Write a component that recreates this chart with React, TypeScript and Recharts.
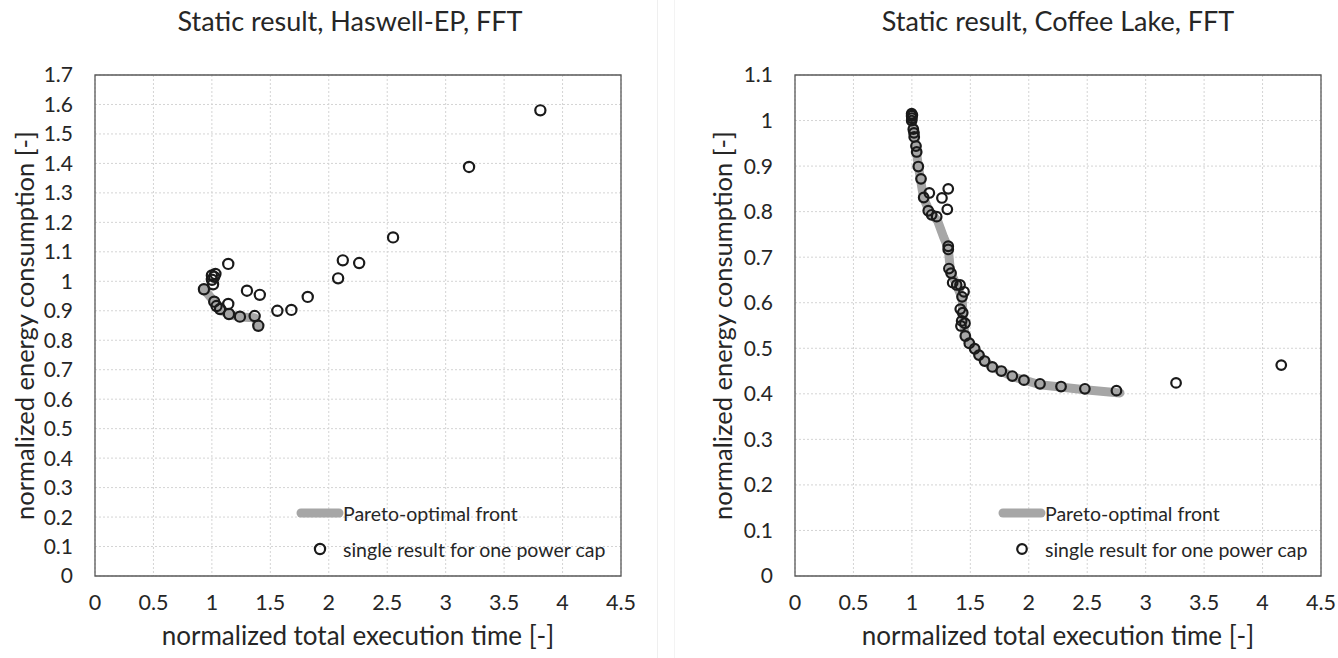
import { ScatterChart, Scatter, XAxis, YAxis, CartesianGrid, ReferenceArea } from "recharts";

const FONT = "Lato, 'Open Sans', sans-serif";
const TEXT = "#262626";
const FRONT_GREY = "#a6a6a6";

const X_TICKS = [0, 0.5, 1, 1.5, 2, 2.5, 3, 3.5, 4, 4.5];
const HASWELL_Y_TICKS = [0, 0.1, 0.2, 0.3, 0.4, 0.5, 0.6, 0.7, 0.8, 0.9, 1, 1.1, 1.2, 1.3, 1.4, 1.5, 1.6, 1.7];
const COFFEE_Y_TICKS = [0, 0.1, 0.2, 0.3, 0.4, 0.5, 0.6, 0.7, 0.8, 0.9, 1, 1.1];

// single results, one per power cap
const haswellPoints = [
  { x: 3.81, y: 1.58 }, { x: 3.2, y: 1.388 }, { x: 2.55, y: 1.149 }, { x: 2.12, y: 1.071 },
  { x: 2.26, y: 1.062 }, { x: 2.08, y: 1.01 }, { x: 1.82, y: 0.947 }, { x: 1.68, y: 0.903 },
  { x: 1.56, y: 0.9 }, { x: 1.14, y: 1.059 }, { x: 1.0, y: 1.02 }, { x: 1.03, y: 1.025 },
  { x: 1.02, y: 1.015 }, { x: 1.0, y: 1.005 }, { x: 1.01, y: 0.99 }, { x: 0.932, y: 0.973 },
  { x: 1.3, y: 0.968 }, { x: 1.41, y: 0.954 }, { x: 1.02, y: 0.931 }, { x: 1.04, y: 0.916 },
  { x: 1.07, y: 0.906 }, { x: 1.14, y: 0.923 }, { x: 1.146, y: 0.889 }, { x: 1.24, y: 0.88 },
  { x: 1.366, y: 0.882 }, { x: 1.397, y: 0.849 },
];
const haswellFront = [
  { x: 0.932, y: 0.973 }, { x: 1.02, y: 0.931 }, { x: 1.07, y: 0.903 }, { x: 1.146, y: 0.887 },
  { x: 1.24, y: 0.879 }, { x: 1.366, y: 0.876 }, { x: 1.397, y: 0.849 },
];

const coffeePoints = [
  { x: 0.998, y: 1.015 }, { x: 0.998, y: 1.01 }, { x: 1.0, y: 1.005 }, { x: 0.998, y: 1.0 },
  { x: 1.004, y: 1.012 }, { x: 1.012, y: 0.981 }, { x: 1.018, y: 0.973 }, { x: 1.02, y: 0.964 },
  { x: 1.035, y: 0.944 }, { x: 1.041, y: 0.931 }, { x: 1.055, y: 0.899 }, { x: 1.078, y: 0.872 },
  { x: 1.149, y: 0.841 }, { x: 1.101, y: 0.831 }, { x: 1.311, y: 0.85 }, { x: 1.257, y: 0.83 },
  { x: 1.303, y: 0.805 }, { x: 1.14, y: 0.802 }, { x: 1.169, y: 0.793 }, { x: 1.212, y: 0.789 },
  { x: 1.311, y: 0.724 }, { x: 1.311, y: 0.717 }, { x: 1.317, y: 0.675 }, { x: 1.335, y: 0.665 },
  { x: 1.349, y: 0.644 }, { x: 1.383, y: 0.639 }, { x: 1.412, y: 0.639 }, { x: 1.446, y: 0.624 },
  { x: 1.429, y: 0.613 }, { x: 1.414, y: 0.586 }, { x: 1.435, y: 0.578 }, { x: 1.426, y: 0.56 },
  { x: 1.454, y: 0.555 }, { x: 1.42, y: 0.549 }, { x: 1.457, y: 0.527 }, { x: 1.491, y: 0.511 },
  { x: 1.537, y: 0.499 }, { x: 1.574, y: 0.485 }, { x: 1.622, y: 0.472 }, { x: 1.688, y: 0.459 },
  { x: 1.765, y: 0.45 }, { x: 1.859, y: 0.439 }, { x: 1.959, y: 0.43 }, { x: 2.096, y: 0.422 },
  { x: 2.276, y: 0.416 }, { x: 2.48, y: 0.411 }, { x: 2.75, y: 0.407 }, { x: 3.26, y: 0.424 },
  { x: 4.16, y: 0.463 },
];
const coffeeFront = [
  { x: 1.0, y: 1.0 }, { x: 1.02, y: 0.97 }, { x: 1.055, y: 0.9 }, { x: 1.1, y: 0.83 },
  { x: 1.15, y: 0.8 }, { x: 1.22, y: 0.78 }, { x: 1.27, y: 0.745 }, { x: 1.311, y: 0.72 },
  { x: 1.33, y: 0.668 }, { x: 1.38, y: 0.64 }, { x: 1.43, y: 0.61 }, { x: 1.44, y: 0.555 },
  { x: 1.46, y: 0.525 }, { x: 1.537, y: 0.498 }, { x: 1.622, y: 0.472 }, { x: 1.688, y: 0.459 },
  { x: 1.859, y: 0.438 }, { x: 2.096, y: 0.42 }, { x: 2.48, y: 0.409 }, { x: 2.78, y: 0.402 },
];

const fmt = (v: number) => String(v);

function Panel(props: any) {
  const { left, width, axisWidth, rightMargin, yTicks, yMax, points, front, title, titleX, yLabelX, legendX, r } = props;

  const circle = (p: any) => (
    <circle cx={p.cx} cy={p.cy} r={r} fill="none" stroke="#1a1a1a" strokeWidth={2.2} />
  );

  return (
    <div style={{ position: "absolute", left, top: 0, width, height: 658 }}>
      <div
        style={{
          position: "absolute", left: titleX - 300, width: 600, top: 5, textAlign: "center",
          fontFamily: FONT, fontSize: 27, lineHeight: 1.2, color: TEXT,
        }}
      >
        {title}
      </div>
      <ScatterChart width={width} height={658} margin={{ top: 75, right: rightMargin, bottom: 0, left: 0 }}>
        <CartesianGrid stroke="#d4d4d4" strokeDasharray="2 2" />
        <XAxis
          type="number"
          dataKey="x"
          domain={[0, 4.5]}
          ticks={X_TICKS}
          tickFormatter={fmt}
          axisLine={false}
          tickLine={false}
          tickSize={0}
          tickMargin={19}
          height={82}
          tick={{ fill: TEXT, fontSize: 21.5, fontFamily: FONT }}
          label={(lp: any) => {
            const vb = lp.viewBox;
            return (
              <text x={vb.x + vb.width / 2} y={vb.y + 59} textAnchor="middle" dominantBaseline="central"
                fontSize={26} fontFamily={FONT} fill={TEXT}>
                normalized total execution time [-]
              </text>
            );
          }}
        />
        <YAxis
          type="number"
          dataKey="y"
          domain={[0, yMax]}
          ticks={yTicks}
          tickFormatter={fmt}
          axisLine={false}
          tickLine={false}
          tickSize={0}
          tickMargin={22}
          width={axisWidth}
          interval={0}
          tick={{ fill: TEXT, fontSize: 21, fontFamily: FONT }}
          label={(lp: any) => {
            const vb = lp.viewBox;
            const cy = vb.y + vb.height / 2;
            return (
              <text x={yLabelX} y={cy} transform={`rotate(-90 ${yLabelX} ${cy})`} textAnchor="middle"
                dominantBaseline="central" fontSize={25.5} fontFamily={FONT} fill={TEXT}>
                normalized energy consumption [-]
              </text>
            );
          }}
        />
        <ReferenceArea x1={0} x2={4.5} y1={0} y2={yMax} fill="none" stroke="#595959" strokeWidth={1.3} ifOverflow="visible" />
        <Scatter
          data={front}
          line={{ stroke: FRONT_GREY, strokeWidth: 9, strokeLinecap: "round", strokeLinejoin: "round" }}
          shape={() => <g />}
          isAnimationActive={false}
        />
        <Scatter data={points} shape={circle} isAnimationActive={false} />
      </ScatterChart>
      <div style={{ position: "absolute", left: legendX, top: 500, fontFamily: FONT, fontSize: 19.5, color: TEXT }}>
        <div style={{ display: "flex", alignItems: "center", height: 26 }}>
          <svg width={48} height={12} style={{ display: "block" }}>
            <line x1={5} y1={6} x2={43} y2={6} stroke={FRONT_GREY} strokeWidth={9} strokeLinecap="round" />
          </svg>
          <span style={{ marginLeft: -1 }}>Pareto-optimal front</span>
        </div>
        <div style={{ display: "flex", alignItems: "center", height: 26, marginTop: 10 }}>
          <svg width={48} height={14} style={{ display: "block" }}>
            <circle cx={24} cy={7} r={r} fill="none" stroke="#1a1a1a" strokeWidth={2.2} />
          </svg>
          <span style={{ marginLeft: -1 }}>single result for one power cap</span>
        </div>
      </div>
    </div>
  );
}

export default function App() {
  return (
    <div style={{ position: "absolute", left: 0, top: 0, width: 1338, height: 658, background: "#fff", overflow: "hidden" }}>
      <Panel
        left={0}
        width={660}
        axisWidth={95}
        rightMargin={39}
        yTicks={HASWELL_Y_TICKS}
        yMax={1.7}
        points={haswellPoints}
        front={haswellFront}
        title="Static result, Haswell-EP, FFT"
        titleX={350}
        yLabelX={24}
        legendX={296}
        r={5.1}
      />
      <div style={{ position: "absolute", left: 657, top: 0, width: 1, height: 658, background: "#efefef" }} />
      <div style={{ position: "absolute", left: 674, top: 0, width: 1, height: 658, background: "#f3f3f3" }} />
      <Panel
        left={660}
        width={678}
        axisWidth={135}
        rightMargin={17}
        yTicks={COFFEE_Y_TICKS}
        yMax={1.1}
        points={coffeePoints}
        front={coffeeFront}
        title="Static result, Coffee Lake, FFT"
        titleX={398}
        yLabelX={62}
        legendX={338}
        r={4.8}
      />
    </div>
  );
}
